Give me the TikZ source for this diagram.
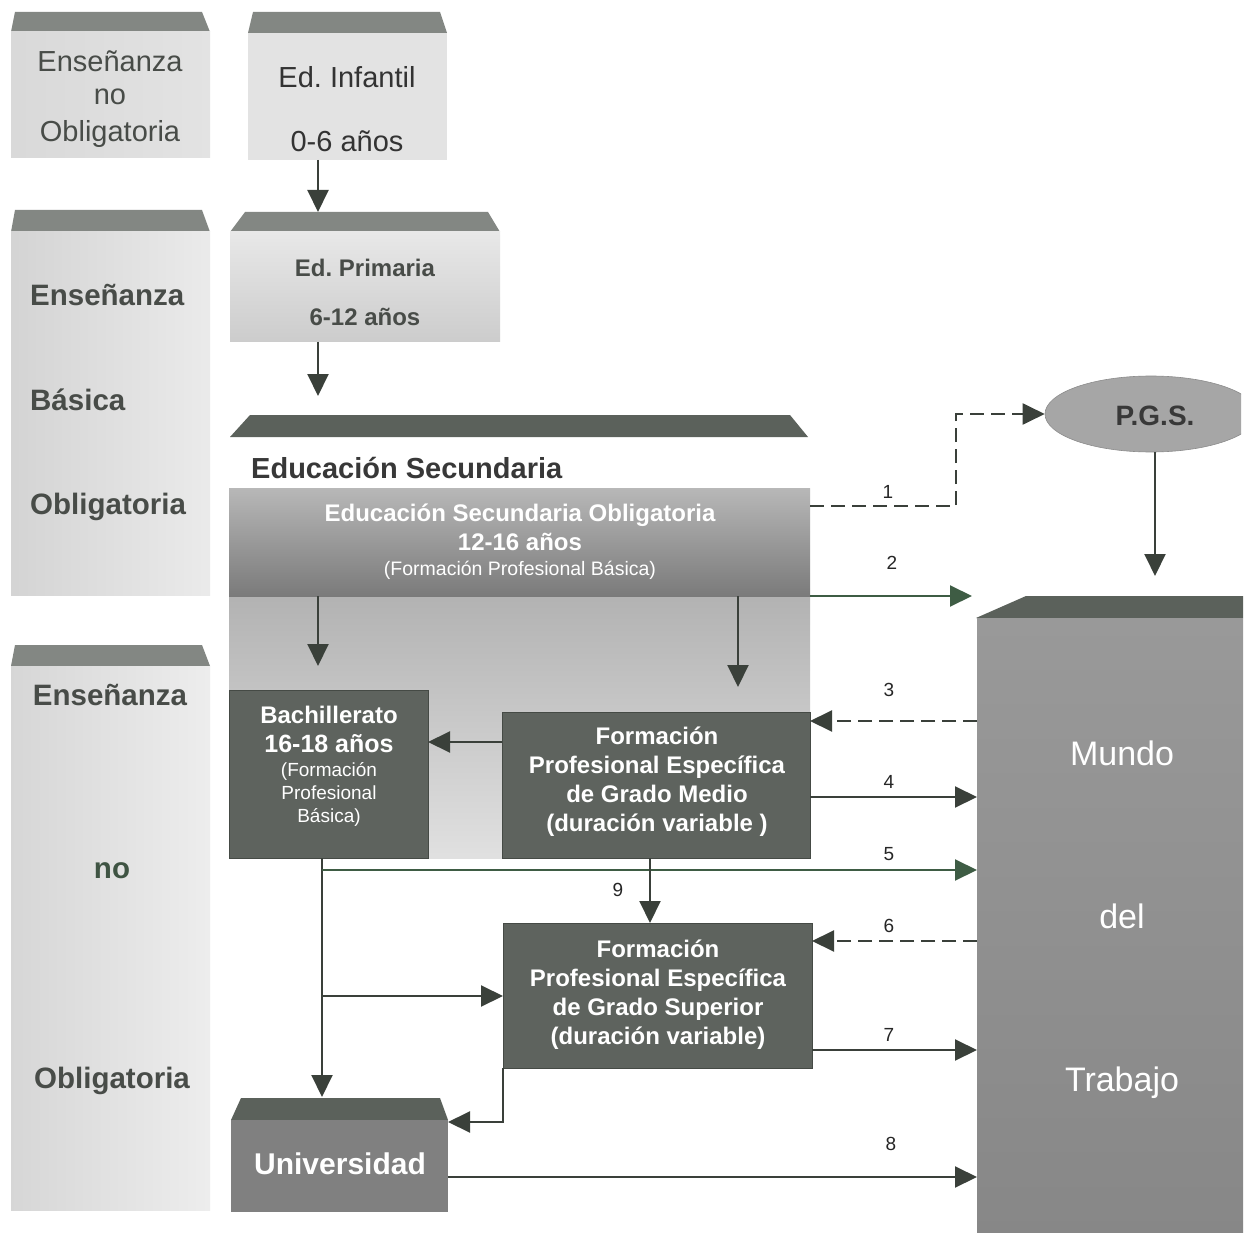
\documentclass[tikz,border=0pt]{standalone}
\usepackage{fontspec}
\setmainfont{Liberation Sans}
\usetikzlibrary{arrows.meta,shapes.geometric}
\definecolor{bandc}{HTML}{838783}
\definecolor{dbandc}{HTML}{5B615B}
\definecolor{darkbox}{HTML}{5E635E}
\definecolor{boxline}{HTML}{454A45}
\definecolor{linec}{HTML}{3A403A}
\definecolor{greenl}{HTML}{3E5C44}
\definecolor{labc}{HTML}{484C48}
\definecolor{nogreen}{HTML}{3F5443}
\newcommand{\fsz}[1]{\fontsize{#1}{#1}\selectfont}
\frenchspacing
\begin{document}
\begin{tikzpicture}[x=1pt,y=-1pt,
  conn/.style={draw=linec, line width=2pt, -{Triangle[length=22pt,width=21pt]}},
  gconn/.style={conn, draw=greenl},
  dconn/.style={conn, dash pattern=on 14pt off 7pt},
  txt/.style={inner sep=0pt, anchor=base},
  wtxt/.style={txt, text=white},
  gtxt/.style={txt, text=labc},
  num/.style={txt, text=black!85, font=\fsz{19}},
  box/.style={inner sep=0pt, outer sep=0pt, draw=none},
  dbox/.style={box, fill=darkbox, draw=boxline, line width=1pt},
]
\useasboundingbox (0,0) rectangle (1248,1233);
\fill[white] (0,0) rectangle (1248,1233);

% ---------- left column ----------
\fill[bandc] (11,32) -- (15,12) -- (202,12) -- (210,32) -- cycle;
\node[box, minimum width=199pt, minimum height=126pt, left color=black!15, right color=black!11] (nob1) at (110.5,95) {};
\node[gtxt, font=\fsz{29}] (t1a) at (110,72) {Enseñanza};
\node[gtxt, font=\fsz{29}] (t1b) at (110,105) {no};
\node[gtxt, font=\fsz{29}] (t1c) at (110,142) {Obligatoria};

\fill[bandc] (11,232) -- (15,210) -- (202,210) -- (210,232) -- cycle;
\node[box, minimum width=199pt, minimum height=363pt, left color=black!17, right color=black!8] (ebo) at (110.5,413.5) {};
\node[gtxt, anchor=base west, font=\fsz{29.5}\bfseries] (t2a) at (30,306) {Enseñanza};
\node[gtxt, anchor=base west, font=\fsz{29.5}\bfseries] (t2b) at (30,410) {Básica};
\node[gtxt, anchor=base west, font=\fsz{29.5}\bfseries] (t2c) at (30,514) {Obligatoria};

\fill[bandc] (11,666) -- (15,645) -- (202,645) -- (210,666) -- cycle;
\node[box, minimum width=199pt, minimum height=544pt, left color=black!16, right color=black!7] (nob2) at (110.5,938) {};
\node[gtxt, font=\fsz{29.5}\bfseries] (t3a) at (110,705) {Enseñanza};
\node[txt, text=nogreen, font=\fsz{29.5}\bfseries] (t3b) at (112,878) {no};
\node[gtxt, font=\fsz{29.5}\bfseries] (t3c) at (112,1088) {Obligatoria};

% ---------- infantil / primaria ----------
\fill[bandc] (248,33) -- (253,12) -- (440,12) -- (447,33) -- cycle;
\node[box, minimum width=199pt, minimum height=127pt, fill=black!11] (inf) at (347.5,96.5) {};
\node[txt, text=black!80, font=\fsz{29}] (infa) at (347,88) {Ed. Infantil};
\node[txt, text=black!80, font=\fsz{29}] (infb) at (347,152) {0-6 años};

\fill[bandc] (230,232) -- (245,212) -- (488,212) -- (500,232) -- cycle;
\node[box, minimum width=270pt, minimum height=110pt, top color=black!9, bottom color=black!20] (prim) at (365,287) {};
\node[gtxt, font=\fsz{24}\bfseries] (prima) at (365,277) {Ed. Primaria};
\node[gtxt, font=\fsz{24}\bfseries] (primb) at (365,326) {6-12 años};

% ---------- secundaria ----------
\fill[dbandc] (230,437) -- (250,415) -- (790,415) -- (808,437) -- cycle;
\node[txt, anchor=base west, text=black!78, font=\fsz{29}\bfseries] (sect) at (251,478) {Educación Secundaria};
\node[box, minimum width=581pt, minimum height=262pt, top color=black!30, bottom color=black!12] (seclow) at (519.5,727) {};
\node[box, minimum width=581pt, minimum height=108pt, top color=black!28, bottom color=black!52] (eso) at (519.5,542) {};
\node[wtxt, font=\fsz{24}\bfseries] (esoa) at (520,521) {Educación Secundaria Obligatoria};
\node[wtxt, font=\fsz{24}\bfseries] (esob) at (520,550) {12-16 años};
\node[wtxt, font=\fsz{19.5}] (esoc) at (520,575) {(Formación Profesional Básica)};

\node[dbox, minimum width=199pt, minimum height=168pt] (bach) at (328.5,774) {};
\node[wtxt, font=\fsz{24}\bfseries] (bacha) at (329,723) {Bachillerato};
\node[wtxt, font=\fsz{25}\bfseries] (bachb) at (329,752) {16-18 años};
\node[wtxt, font=\fsz{19}] (bachc) at (329,776) {(Formación};
\node[wtxt, font=\fsz{19}] (bachd) at (329,799) {Profesional};
\node[wtxt, font=\fsz{19}] (bache) at (329,822) {Básica)};

\node[dbox, minimum width=308pt, minimum height=146pt] (fpm) at (656,785) {};
\node[wtxt, font=\fsz{24}\bfseries] (fpma) at (657,744) {Formación};
\node[wtxt, font=\fsz{24}\bfseries] (fpmb) at (657,773) {Profesional Específica};
\node[wtxt, font=\fsz{24}\bfseries] (fpmc) at (657,802) {de Grado Medio};
\node[wtxt, font=\fsz{24}\bfseries] (fpmd) at (657,831) {(duración variable )};

\node[dbox, minimum width=309pt, minimum height=145pt] (fps) at (657.5,995.5) {};
\node[wtxt, font=\fsz{24}\bfseries] (fpsa) at (658,957) {Formación};
\node[wtxt, font=\fsz{24}\bfseries] (fpsb) at (658,986) {Profesional Específica};
\node[wtxt, font=\fsz{24}\bfseries] (fpsc) at (658,1015) {de Grado Superior};
\node[wtxt, font=\fsz{24}\bfseries] (fpsd) at (658,1044) {(duración variable)};

% ---------- universidad ----------
\fill[dbandc] (231,1120) -- (241,1098) -- (440,1098) -- (448,1120) -- cycle;
\node[box, minimum width=217pt, minimum height=92pt, fill=black!50] (uni) at (339.5,1166) {};
\node[wtxt, font=\fsz{30}\bfseries] (unit) at (340,1174) {Universidad};

% ---------- P.G.S. and Mundo del Trabajo ----------
\begin{scope}
\clip (0,0) rectangle (1241,1233);
\node[ellipse, draw=black!45, line width=0.6pt, fill=black!35, minimum width=212pt, minimum height=76pt, inner sep=0pt] (pgs) at (1151,414) {};
\end{scope}
\node[txt, text=black!78, font=\fsz{28}\bfseries] (pgst) at (1155,425) {P.G.S.};

\fill[dbandc] (976,618) -- (1026,596) -- (1243,596) -- (1243,618) -- cycle;
\node[box, minimum width=266pt, minimum height=615pt, top color=black!40, bottom color=black!47] (mundo) at (1110,925.5) {};
\node[wtxt, font=\fsz{34}] (mua) at (1122,765) {Mundo};
\node[wtxt, font=\fsz{34}] (mub) at (1122,928) {del};
\node[wtxt, font=\fsz{34}] (muc) at (1122,1091) {Trabajo};

% ---------- helper coordinates ----------
\coordinate (primtip) at (318,212);
\coordinate (sectip) at (318,396);
\coordinate (bachtip) at (318,666);
\coordinate (fpmtip) at (738,687);
\coordinate (k1) at (956,506);
\coordinate (pgstip) at (1155,576);
\coordinate (tip2) at (972,596);
\coordinate (y3) at (0,721);
\coordinate (y4) at (0,797);
\coordinate (j5) at (322,870);
\coordinate (y6) at (0,941);
\coordinate (y7) at (0,1050);
\coordinate (y8) at (0,1177);
\coordinate (y742) at (0,742);
\coordinate (j996) at (322,996);
\coordinate (unitip) at (322,1097);
\coordinate (x650) at (650,0);
\coordinate (y1122) at (0,1122);

% ---------- connectors ----------
\draw[conn] (inf.south -| primtip) -- (primtip);
\draw[conn] (prim.south -| sectip) -- (sectip);
\draw[conn] (eso.south -| bachtip) -- (bachtip);
\draw[conn] (eso.south -| fpmtip) -- (fpmtip);
\draw[conn] (fpm.west |- y742) -- (bach.east |- y742);
\draw[dconn] (eso.east |- k1) -- (k1) |- (pgs.west);
\draw[conn] (pgs.south -| pgstip) -- (pgstip);
\draw[gconn] (eso.south east) -- (tip2);
\draw[dconn] (mundo.west |- y3) -- (fpm.east |- y3);
\draw[conn] (fpm.east |- y4) -- (mundo.west |- y4);
\draw[conn] (bach.south -| unitip) -- (unitip);
\draw[gconn] (j5) -- (mundo.west |- j5);
\draw[conn] (fpm.south -| x650) -- (fps.north -| x650);
\draw[conn] (j996) -- (fps.west |- j996);
\draw[dconn] (mundo.west |- y6) -- (fps.east |- y6);
\draw[conn] (fps.east |- y7) -- (mundo.west |- y7);
\draw[conn] (fps.south west) |- (uni.east |- y1122);
\draw[conn] (uni.east |- y8) -- (mundo.west |- y8);

% ---------- numbers ----------
\node[num] (n1) at (888,498) {1};
\node[num] (n2) at (892,569) {2};
\node[num] (n3) at (889,696) {3};
\node[num] (n4) at (889,788) {4};
\node[num] (n5) at (889,860) {5};
\node[num] (n6) at (889,932) {6};
\node[num] (n7) at (889,1041) {7};
\node[num] (n8) at (891,1150) {8};
\node[num] (n9) at (618,896) {9};
\end{tikzpicture}
\end{document}
